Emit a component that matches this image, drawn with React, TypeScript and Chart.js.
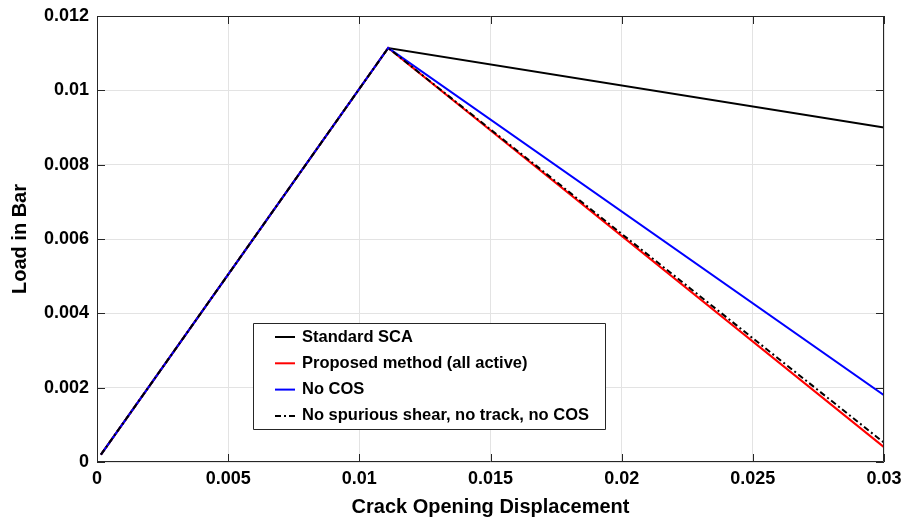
import React, { useEffect, useRef } from "react";
import { Chart, registerables } from "chart.js";

Chart.register(...registerables);

const crackOpening = [0.00015, 0.0111, 0.03];
const standardLoad = [0.0002, 0.01114, 0.009];
const proposedLoad = [0.0002, 0.01114, 0.0004];
const noCosLoad = [0.0002, 0.01114, 0.0018];
const noShearLoad = [0.0002, 0.01114, 0.00052];

const xTickValues = [0, 0.005, 0.01, 0.015, 0.02, 0.025, 0.03];
const xTickLabels = ["0", "0.005", "0.01", "0.015", "0.02", "0.025", "0.03"];
const yTickValues = [0, 0.002, 0.004, 0.006, 0.008, 0.01, 0.012];
const yTickLabels = ["0", "0.002", "0.004", "0.006", "0.008", "0.01", "0.012"];

const seriesNames = [
  "Standard SCA",
  "Proposed method (all active)",
  "No COS",
  "No spurious shear, no track, no COS",
];
const seriesColors = ["#000000", "#ff0000", "#0000ff", "#000000"];
const seriesDashes: number[][] = [[], [], [], [6, 3, 2, 3]];
const seriesLoads = [standardLoad, proposedLoad, noCosLoad, noShearLoad];

const FONT = "'Liberation Sans', Arial, Helvetica, sans-serif";

const framePlugin = {
  id: "frame",
  afterDraw(chart: any) {
    const { ctx, chartArea } = chart;
    const { left, right, top, bottom } = chartArea;
    const xs = chart.scales.x;
    const ys = chart.scales.y;
    ctx.save();
    ctx.strokeStyle = "#262626";
    ctx.lineWidth = 1;
    ctx.beginPath();
    ctx.rect(left + 0.5, top + 0.5, right - left - 1, bottom - top - 1);
    ctx.stroke();
    const tl = 8;
    ctx.beginPath();
    xTickValues.forEach((v) => {
      const px = Math.round(xs.getPixelForValue(v)) + 0.5;
      ctx.moveTo(px, bottom);
      ctx.lineTo(px, bottom - tl);
      ctx.moveTo(px, top);
      ctx.lineTo(px, top + tl);
    });
    yTickValues.forEach((v) => {
      const py = Math.round(ys.getPixelForValue(v)) + 0.5;
      ctx.moveTo(left, py);
      ctx.lineTo(left + tl, py);
      ctx.moveTo(right, py);
      ctx.lineTo(right - tl, py);
    });
    ctx.stroke();

    // legend
    const lx = 253, ly = 323, lw = 352, lh = 106;
    ctx.fillStyle = "#ffffff";
    ctx.fillRect(lx, ly, lw, lh);
    ctx.strokeStyle = "#262626";
    ctx.beginPath();
    ctx.rect(lx + 0.5, ly + 0.5, lw, lh);
    ctx.stroke();
    ctx.font = `bold 16.5px ${FONT}`;
    ctx.textBaseline = "middle";
    ctx.textAlign = "left";
    seriesNames.forEach((name, i) => {
      const y = 337 + i * 26.3;
      ctx.strokeStyle = seriesColors[i];
      ctx.lineWidth = 2;
      ctx.setLineDash(seriesDashes[i]);
      ctx.beginPath();
      ctx.moveTo(275, y);
      ctx.lineTo(295, y);
      ctx.stroke();
      ctx.setLineDash([]);
      ctx.fillStyle = "#000000";
      ctx.fillText(name, 302, y);
    });
    ctx.restore();
  },
};

export default function App() {
  const ref = useRef<HTMLCanvasElement | null>(null);
  useEffect(() => {
    if (!ref.current) return;
    const datasets = seriesLoads.map((loads, i) => ({
      label: seriesNames[i],
      data: crackOpening.map((x, j) => ({ x, y: loads[j] })),
      borderColor: seriesColors[i],
      borderWidth: 2,
      borderDash: seriesDashes[i],
      pointRadius: 0,
      fill: false,
      tension: 0,
      order: 4 - i,
    }));
    const chart = new Chart(ref.current, {
      type: "line",
      data: { datasets },
      plugins: [framePlugin],
      options: {
        animation: false,
        responsive: false,
        layout: { padding: { top: 16, right: 19, left: 0, bottom: 0 } },
        plugins: { legend: { display: false }, tooltip: { enabled: false } },
        scales: {
          x: {
            type: "linear",
            min: 0,
            max: 0.03,
            afterFit: (s: any) => {
              s.height = 59;
              s.paddingLeft = 0;
              s.paddingRight = 0;
            },
            afterBuildTicks: (s: any) => {
              s.ticks = xTickValues.map((v) => ({ value: v }));
            },
            ticks: {
              padding: 6,
              color: "#000",
              font: { family: FONT, size: 18, weight: "bold" },
              maxRotation: 0,
              callback: (v: any) => xTickLabels[xTickValues.indexOf(v)] ?? "",
            },
            grid: { color: "#e3e3e3", drawTicks: false, lineWidth: 1 },
            border: { display: false },
            title: {
              display: true,
              text: "Crack Opening Displacement",
              color: "#000",
              font: { family: FONT, size: 20, weight: "bold" },
              padding: { top: 0, bottom: 2 },
            },
          },
          y: {
            type: "linear",
            min: 0,
            max: 0.012,
            afterFit: (s: any) => {
              s.width = 97;
              s.paddingTop = 0;
              s.paddingBottom = 0;
            },
            afterBuildTicks: (s: any) => {
              s.ticks = yTickValues.map((v) => ({ value: v }));
            },
            ticks: {
              padding: 8,
              color: "#000",
              font: { family: FONT, size: 18, weight: "bold" },
              callback: (v: any) => yTickLabels[yTickValues.indexOf(v)] ?? "",
            },
            grid: { color: "#e3e3e3", drawTicks: false, lineWidth: 1 },
            border: { display: false },
            title: {
              display: true,
              text: "Load in Bar",
              color: "#000",
              font: { family: FONT, size: 20, weight: "bold" },
              padding: { top: 8, bottom: 0 },
            },
          },
        },
      },
    });
    return () => chart.destroy();
  }, []);
  return (
    <div style={{ position: "fixed", left: 0, top: 0, width: 903, height: 521, background: "#fff" }}>
      <canvas ref={ref} width={903} height={521} style={{ display: "block" }} />
    </div>
  );
}
